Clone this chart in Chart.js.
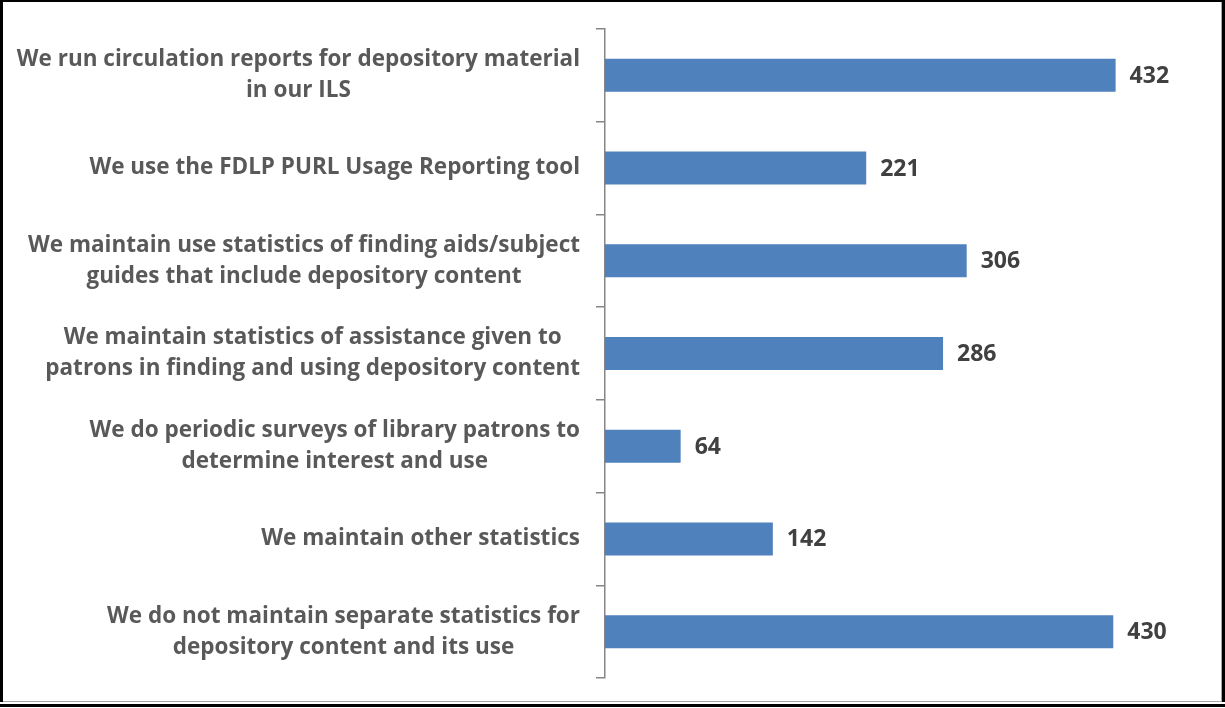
<!DOCTYPE html>
<html>
<head>
  <title>Depository usage statistics</title>
  <script src="https://cdn.jsdelivr.net/npm/chart.js"></script>
  <style>
    body { margin: 0; background: #fff; }
    #wrap { position: relative; width: 1225px; height: 708px; }
    #frame {
      position: absolute; left: 0; top: 0; width: 1225px; height: 702px;
      box-sizing: border-box; border: 2px solid #000; border-left-width: 3px; border-right-width: 3px; border-bottom: none;
      box-shadow: inset -1px -1px 0 #a6a6a6; pointer-events: none;
    }
    #rule { position: absolute; left: 0; top: 704px; width: 1225px; height: 3px; background: #000; }
  </style>
</head>
<body>
  <div id="wrap">
    <canvas id="myChart"></canvas>
    <div id="frame"></div>
    <div id="rule"></div>
  </div>

  <script>
    // each category is split into the lines it is printed on
    const categories = [
      ['We run circulation reports for depository material', 'in our ILS'],
      ['We use the FDLP PURL Usage Reporting tool'],
      ['We maintain use statistics of finding aids/subject', 'guides that include depository content'],
      ['We maintain statistics of assistance given to', 'patrons in finding and using depository content'],
      ['We do periodic surveys of library patrons to', 'determine interest and use'],
      ['We maintain other statistics'],
      ['We do not maintain separate statistics for', 'depository content and its use']
    ];
    const responses = [432, 221, 306, 286, 64, 142, 430];
    const axisMax = 500;

    const labelFont = 'bold 22.5px "Open Sans"';
    const valueFont = 'bold 23px "Open Sans"';
    const lineGap = 31;

    // category text: each block right-aligned to the axis, its lines centred
    const categoryText = {
      id: 'categoryText',
      afterDraw(chart) {
        const ctx = chart.ctx;
        const y = chart.scales.y;
        const right = chart.chartArea.left - 25;
        ctx.save();
        ctx.font = labelFont;
        ctx.fillStyle = '#595959';
        ctx.textAlign = 'center';
        ctx.textBaseline = 'middle';
        categories.forEach((lines, i) => {
          const w = Math.max(...lines.map(l => ctx.measureText(l).width));
          const cx = right - w / 2;
          const cy = y.getPixelForValue(i);
          lines.forEach((l, j) => {
            ctx.fillText(l, cx, cy + (j - (lines.length - 1) / 2) * lineGap);
          });
        });
        ctx.restore();
      }
    };

    // value printed just past the end of each bar
    const valueText = {
      id: 'valueText',
      afterDatasetsDraw(chart) {
        const ctx = chart.ctx;
        const meta = chart.getDatasetMeta(0);
        ctx.save();
        ctx.font = valueFont;
        ctx.fillStyle = '#404040';
        ctx.textAlign = 'left';
        ctx.textBaseline = 'middle';
        meta.data.forEach((bar, i) => {
          ctx.fillText(String(responses[i]), bar.x + 14, bar.y + 1);
        });
        ctx.restore();
      }
    };

    const ctx = document.getElementById('myChart').getContext('2d');
    const myChart = new Chart(ctx, {
      type: 'bar',
      data: {
        labels: categories,
        datasets: [{
          data: responses,
          backgroundColor: '#4F81BD',
          barPercentage: 1,
          categoryPercentage: 0.356
        }]
      },
      options: {
        indexAxis: 'y',
        responsive: true,
        maintainAspectRatio: false,
        animation: false,
        layout: { padding: { top: 29, bottom: 30, right: 29, left: 0 } },
        plugins: { legend: { display: false }, tooltip: { enabled: false } },
        scales: {
          x: { display: false, min: 0, max: axisMax },
          y: {
            offset: true,
            afterFit(scale) { scale.width = 605; },
            ticks: { display: false },
            grid: { drawOnChartArea: false, drawTicks: true, tickLength: 9, color: '#868686', lineWidth: 1.5, offset: true },
            border: { display: true, color: '#868686', width: 1.5 }
          }
        }
      },
      plugins: [categoryText, valueText]
    });
  </script>
</body>
</html>
